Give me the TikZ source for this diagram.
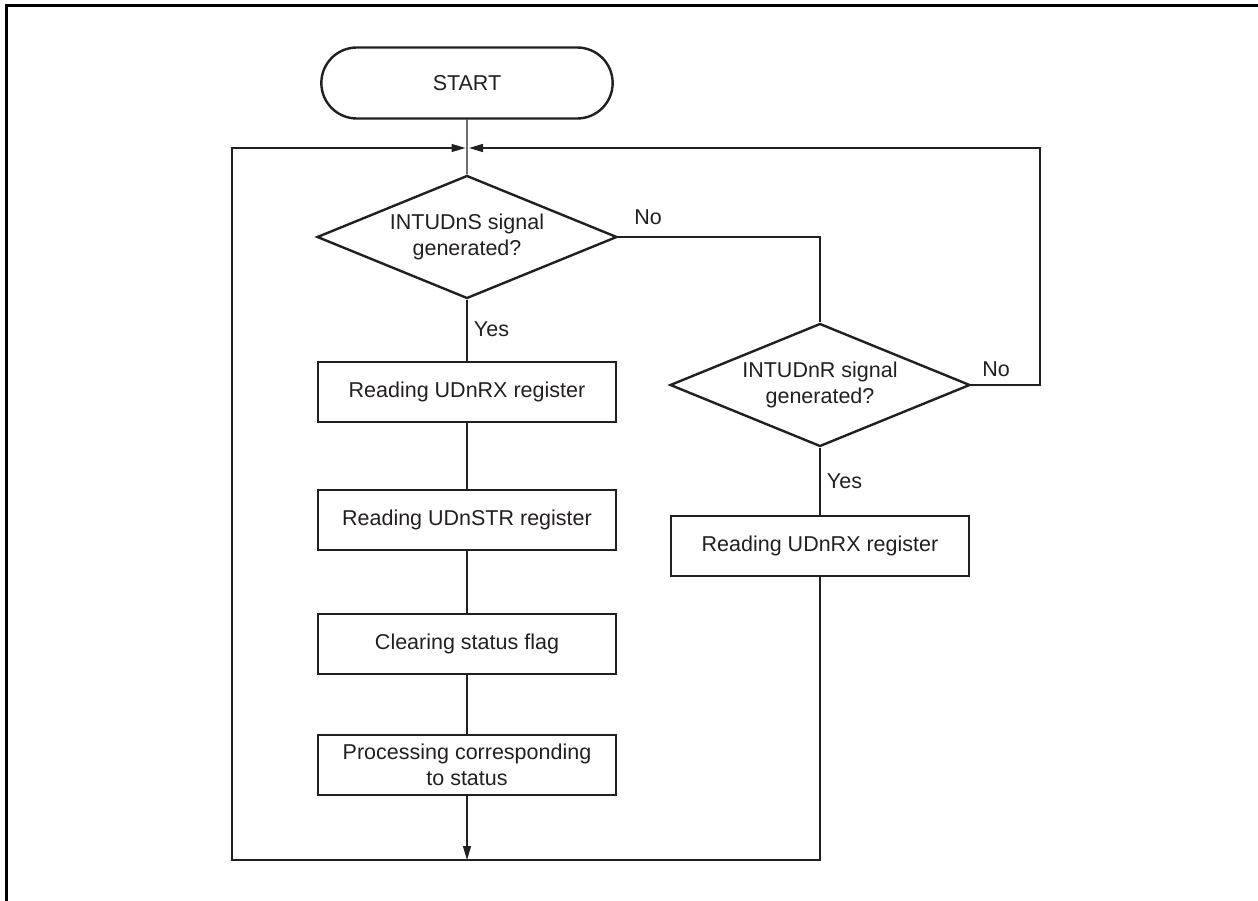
\documentclass[tikz,border=0pt]{standalone}
\usepackage{fontspec}
\setmainfont{Liberation Sans}
\usetikzlibrary{shapes.geometric, shapes.misc, arrows.meta}

\definecolor{ink}{HTML}{231F20}

\begin{document}
\begin{tikzpicture}[x=1pt, y=-1pt,
    every node/.style={font=\fontsize{21.5}{26}\selectfont, text=ink},
    box/.style={draw=ink, line width=2.4pt, minimum width=298pt, minimum height=60pt, align=center, inner sep=0pt},
    ask/.style={draw=ink, diamond, line width=2.4pt, minimum width=300pt, minimum height=123pt, aspect=2.44, align=center, inner sep=0pt},
    flow/.style={draw=ink, line width=1.3pt},
    tip/.style={flow, -{Triangle[length=14pt, width=8pt]}}]
    \useasboundingbox (0,0) rectangle (1258,901);

    % MARC
    \draw[line width=3pt] (6.5,901) -- (6.5,5.5) -- (1258,5.5);

    % NODES DEL FLUX PRINCIPAL
    \node[draw=ink, line width=2.4pt, rounded rectangle, minimum width=298pt, minimum height=71pt] (start) at (467,83) {START};
    \node[ask] (asks) at (467,237) {INTUDnS signal\\generated?};
    \node[box] (rdrx) at (467,392) {Reading UDnRX register};
    \node[box] (rdstr) at (467,520) {Reading UDnSTR register};
    \node[box] (clear) at (467,644) {Clearing status flag};
    \node[box] (proc) at (467,765) {Processing corresponding\\to status};

    % BRANCA DRETA
    \node[ask] (askr) at (820,385) {INTUDnR signal\\generated?};
    \node[box] (rdrx2) at (820,546) {Reading UDnRX register};

    % PUNTS DE PAS
    \coordinate (join) at (467,148);
    \coordinate (bot) at (467,860);
    \coordinate (botr) at (820,860);
    \coordinate (botl) at (232,860);
    \coordinate (topl) at (232,148);
    \coordinate (turn) at (820,237);
    \coordinate (outr) at (1040,385);
    \coordinate (topr) at (1040,148);

    % CONNECTORS
    \draw[flow] (start) -- (asks);
    \draw[flow] (asks) -- (rdrx) node[pos=0.48, anchor=west, xshift=3pt] {Yes};
    \draw[flow] (rdrx) -- (rdstr);
    \draw[flow] (rdstr) -- (clear);
    \draw[flow] (clear) -- (proc);
    \draw[tip] (proc) -- (bot);
    \draw[flow] (asks.east) -- (turn) -- (askr.north);
    \node at (648,217) {No};
    \draw[flow] (askr) -- (rdrx2) node[midway, anchor=west, xshift=3pt] {Yes};
    \draw[tip] (rdrx2) -- (botr) -- (botl) -- (topl) -- ([xshift=-1.5pt]join);
    \draw[tip] (askr.east) -- (outr) -- (topr) -- ([xshift=2pt]join);
    \node at (996,369) {No};
\end{tikzpicture}
\end{document}
